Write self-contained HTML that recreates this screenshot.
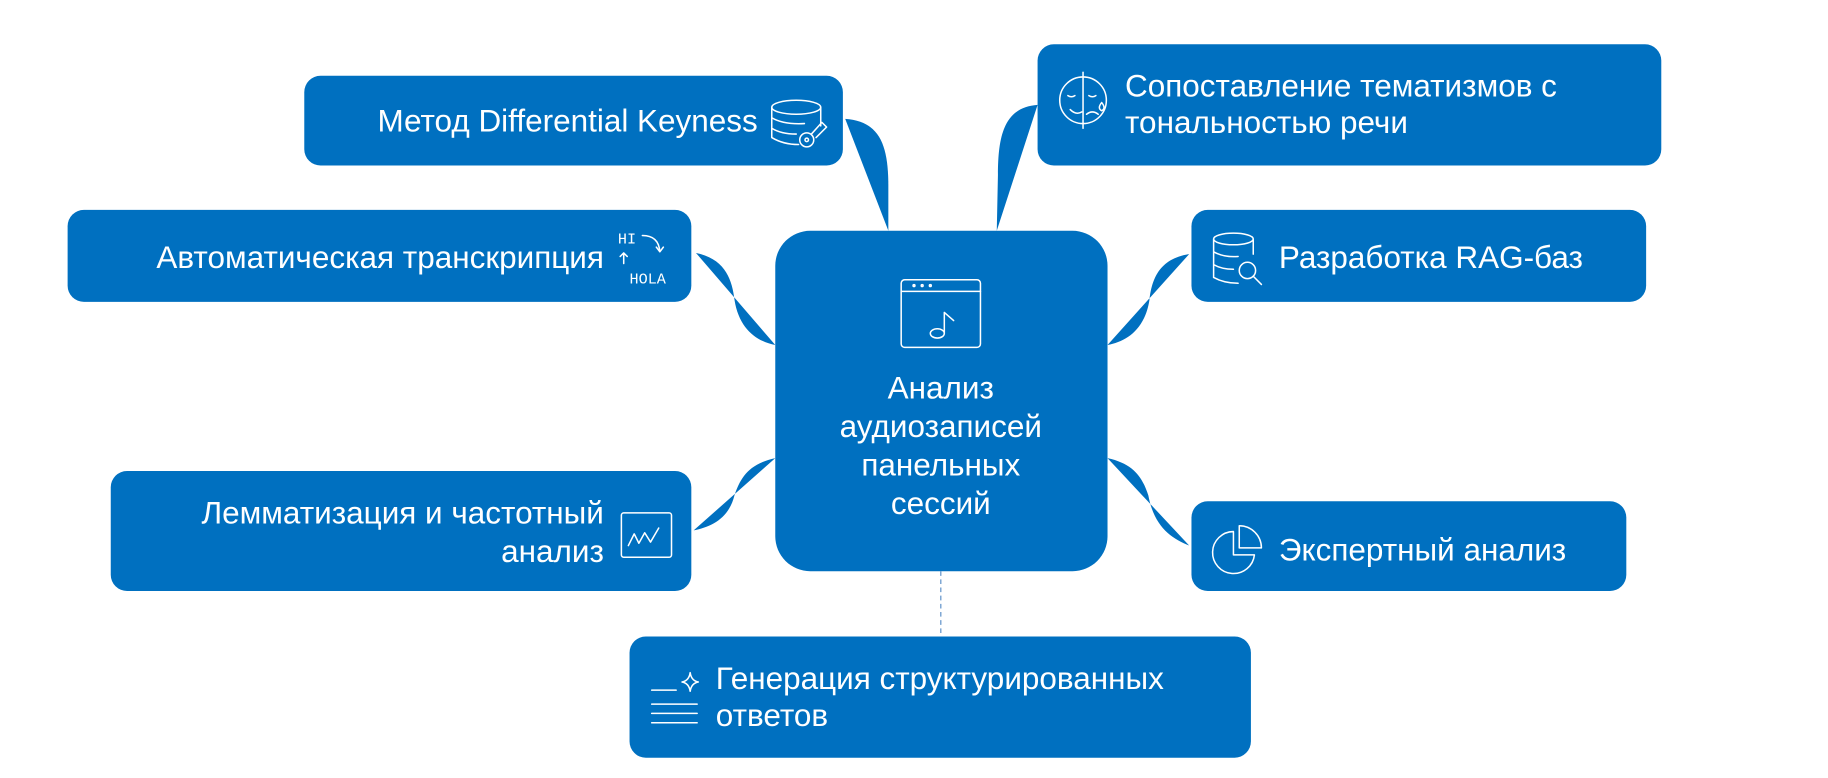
<!DOCTYPE html>
<html><head><meta charset="utf-8"><style>
html,body{margin:0;padding:0;background:#fff;}
svg{display:block;}
text{font-family:"Liberation Sans",sans-serif;fill:#fff;font-size:27px;}
.ic{fill:none;stroke:#fff;stroke-width:1.3;stroke-linecap:round;stroke-linejoin:round;}
</style></head><body>
<svg width="1828" height="778" viewBox="0 0 1568 667.4" preserveAspectRatio="none" xmlns="http://www.w3.org/2000/svg">
<g fill="#0070C0">
<path d="M725,102 C755,104 762,125 762,160 L762,198 Z"/>
<path d="M890,90 C862,92 856,115 856,150 L855,198 Z"/>
<path d="M597,217 C622,222 628,240 630,257 C634,283 650,293 665,296 Z"/>
<path d="M1020,218 C994,222 988,240 986,257 C982,283 966,293 950,296 Z"/>
<path d="M665,393 C642,398 635,410 630,425 C625,445 610,452 595,455 Z"/>
<path d="M950,393 C973,398 980,410 985,425 C990,452 1005,462 1020,468 Z"/>
<rect x="261" y="65" width="462" height="77" rx="14"/>
<rect x="890" y="38" width="535" height="104" rx="14"/>
<rect x="58" y="180" width="535" height="79" rx="14"/>
<rect x="1022" y="180" width="390" height="79" rx="14"/>
<rect x="95" y="404" width="498" height="103" rx="14"/>
<rect x="1022" y="430" width="373" height="77" rx="14"/>
<rect x="540" y="546" width="533" height="104" rx="14"/>
<rect x="665" y="198" width="285" height="292" rx="30"/>
</g>
<line x1="807" y1="490" x2="807" y2="546" stroke="#5a8fc8" stroke-width="1" stroke-dasharray="4,3"/>

<text x="650" y="113" text-anchor="end">Метод Differential Keyness</text>
<text x="965" y="83">Сопоставление тематизмов с</text>
<text x="965" y="114">тональностью речи</text>
<text x="518" y="230" text-anchor="end">Автоматическая транскрипция</text>
<text x="1097" y="230">Разработка RAG-баз</text>
<text x="518" y="449" text-anchor="end">Лемматизация и частотный</text>
<text x="518" y="482" text-anchor="end">анализ</text>
<text x="1097" y="481">Экспертный анализ</text>
<text x="614" y="591">Генерация структурированных</text>
<text x="614" y="623">ответов</text>
<text x="807" y="342" text-anchor="middle">Анализ</text>
<text x="807" y="375" text-anchor="middle">аудиозаписей</text>
<text x="807" y="408" text-anchor="middle">панельных</text>
<text x="807" y="441" text-anchor="middle">сессий</text>

<g class="ic">
<rect x="773" y="240" width="68" height="58" rx="3"/>
<line x1="773" y1="250" x2="841" y2="250"/>
<circle cx="784" cy="245" r="0.8"/><circle cx="791" cy="245" r="0.8"/><circle cx="798" cy="245" r="0.8"/>
<ellipse cx="804" cy="286" rx="6" ry="4"/>
<path d="M810,286 V268 L818,275"/>
<ellipse cx="683" cy="92" rx="21" ry="6"/>
<path d="M662,92 V118 Q672,124 685,124 M704,92 V108 M662,101 Q672,107 690,106 M662,110 Q670,115 683,115"/>
<circle cx="692" cy="120" r="6"/><circle cx="692" cy="120" r="1.5"/>
<path d="M696,115 L705,105 L709,109 L700,118"/>
<circle cx="929" cy="86" r="20"/>
<line x1="929" y1="62" x2="929" y2="110"/>
<path d="M916,82 q3,2 6,0 M934,82 q3,2 6,0 M918,94 q5,5 10,2 M932,98 q5,-4 10,0"/>
<path d="M945,88 q-4,5 0,7 q4,-2 0,-7"/>
<path d="M551,202 q14,0 15,14 M563,212 l3,4 l3,-4 M535,226 v-8 M532,220 l3,-3 l3,3"/>
<ellipse cx="1058" cy="205" rx="17" ry="5"/>
<path d="M1041,205 V238 Q1050,243 1062,243 M1075,205 V218 M1041,216 Q1050,221 1062,220 M1041,227 Q1048,231 1058,231"/>
<circle cx="1070" cy="232" r="7"/><line x1="1075" y1="237" x2="1082" y2="244"/>
<rect x="533" y="440" width="43" height="38" rx="2"/>
<path d="M539,468 l5,-10 l4,8 l5,-9 l5,8 l7,-12"/>
<path d="M1058,456 A18,18 0 1,0 1076,476 H1058 Z"/>
<path d="M1063,451 V470 H1082 A19,19 0 0,0 1063,451 Z"/>
<path d="M559,592 H580 M559,604 H598 M559,612 H598 M559,620 H598"/>
<path d="M592,577 q1,7 7,8 q-6,1 -7,8 q-1,-7 -7,-8 q6,-1 7,-8 Z"/>
</g>
<text x="530" y="209" style="font-family:'Liberation Mono',monospace;font-size:13px">HI</text>
<text x="540" y="243" style="font-family:'Liberation Mono',monospace;font-size:13px">HOLA</text>
</svg>
</body></html>
